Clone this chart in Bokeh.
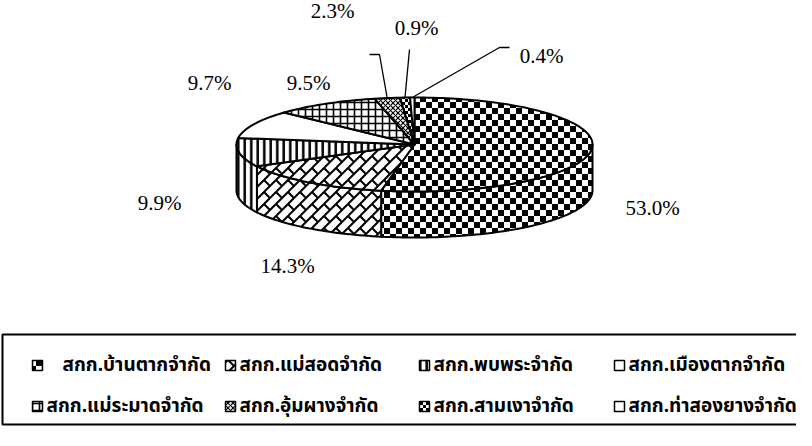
import math
import base64
from bokeh.plotting import figure
from bokeh.models import Range1d, ImageURLTexture
from bokeh.core.properties import value
from bokeh.embed import file_html
from bokeh.resources import INLINE

# ---------------- data ----------------
categories = ["สกก.บ้านตากจำกัด", "สกก.แม่สอดจำกัด", "สกก.พบพระจำกัด", "สกก.เมืองตากจำกัด",
              "สกก.แม่ระมาดจำกัด", "สกก.อุ้มผางจำกัด", "สกก.สามเงาจำกัด", "สกก.ท่าสองยางจำกัด"]
shares = [53.0, 14.3, 9.9, 9.7, 9.5, 2.3, 0.9, 0.4]

# ---------------- textures ----------------
def svg_url(svg):
    return "data:image/svg+xml;base64," + base64.b64encode(svg.encode()).decode()

def checker_svg(n):
    return (f"<svg xmlns='http://www.w3.org/2000/svg' width='{2*n}' height='{2*n}'>"
            f"<rect width='{2*n}' height='{2*n}' fill='white'/>"
            f"<rect width='{n}' height='{n}' fill='black'/>"
            f"<rect x='{n}' y='{n}' width='{n}' height='{n}' fill='black'/></svg>")

def brick_svg():
    T, s, L = 24, 12, 24
    parts = [f"<svg xmlns='http://www.w3.org/2000/svg' width='{T}' height='{T}'>",
             f"<rect width='{T}' height='{T}' fill='white'/>"]
    for c in range(-48, 97, s):
        parts.append(f"<line x1='{c+48}' y1='-48' x2='{c-96}' y2='96' stroke='black' stroke-width='2'/>")
    for k in range(-4, 9):
        c1, c2 = k * s, (k + 1) * s
        off = L // 2 if k % 2 else 0
        for v0 in range(-96 + off, 97, L):
            parts.append(f"<line x1='{(c1+v0)/2}' y1='{(c1-v0)/2}' x2='{(c2+v0)/2}' y2='{(c2-v0)/2}' "
                         f"stroke='black' stroke-width='2'/>")
    parts.append("</svg>")
    return "".join(parts)

textures = {
    "checker": ImageURLTexture(url=svg_url(checker_svg(6))),
    "smallchecker": ImageURLTexture(url=svg_url(checker_svg(3))),
    "brick": ImageURLTexture(url=svg_url(brick_svg())),
}

styles = [
    dict(hatch_pattern="checker", hatch_extra={"checker": textures["checker"]}),
    dict(hatch_pattern="brick", hatch_extra={"brick": textures["brick"]}),
    dict(hatch_pattern="vertical_line", hatch_scale=6.5, hatch_weight=2.5, hatch_color="black"),
    dict(hatch_pattern=" "),
    dict(hatch_pattern="cross", hatch_scale=7, hatch_weight=1.6, hatch_color="black"),
    dict(hatch_pattern="diagonal_cross", hatch_scale=5, hatch_weight=1.2, hatch_color="black"),
    dict(hatch_pattern="smallchecker", hatch_extra={"smallchecker": textures["smallchecker"]}),
    dict(hatch_pattern=" "),
]

# ---------------- layout constants ----------------
CX, CY, RX, RY, DEPTH = 422, 152, 178, 47, 46
label_pos = [(660, 215), (295, 273), (167, 210), (217, 90), (316, 90), (340, 18), (424, 35), (549, 63)]
leader_elbows = {5: [(387, 62), (377, 62)], 6: [(417, 57)], 7: [(507, 55), (517, 55)]}

p = figure(width=796, height=430, x_range=Range1d(8, 804), y_range=Range1d(438, 8),
           output_backend="svg", toolbar_location=None, min_border=0,
           x_axis_location=None, y_axis_location=None)
p.grid.visible = False
p.outline_line_color = None
p.background_fill_color = "white"


def pt(theta, dy=0.0):
    t = math.radians(theta)
    return CX + RX * math.sin(t), CY - RY * math.cos(t) + dy


def arc(a, b, dy=0.0, n=None):
    n = n or max(2, int(abs(b - a) / 1.5) + 2)
    return [pt(a + (b - a) * i / (n - 1), dy) for i in range(n)]


bounds = []
acc = 0.0
for v in shares:
    bounds.append((acc * 3.6, (acc + v) * 3.6))
    acc += v

# side walls (front half only)
for (t0, t1), st in zip(bounds, styles):
    a, b = max(t0, 90), min(t1, 270)
    if a < b:
        top = arc(a, b)
        bot = arc(b, a, DEPTH)
        pts = top + bot
        p.patch([q[0] for q in pts], [q[1] for q in pts], fill_color="white",
                line_color="black", line_width=2, line_join="round", **st)

# top faces
for (t0, t1), st in zip(bounds, styles):
    pts = [(CX, CY)] + arc(t0, t1) + [(CX, CY)]
    p.patch([q[0] for q in pts], [q[1] for q in pts], fill_color="white",
            line_color="black", line_width=2, line_join="round", **st)

# leader lines for small slices
for i, elbow in leader_elbows.items():
    t0, t1 = bounds[i]
    ax, ay = pt((t0 + t1) / 2)
    pts = [(ax, ay)] + elbow
    p.line([q[0] for q in pts], [q[1] for q in pts], line_color="black", line_width=1.3)

# percentage labels
p.text(x=[q[0] for q in label_pos], y=[q[1] for q in label_pos],
       text=[f"{v:.1f}%" for v in shares], text_align="center", text_baseline="middle",
       text_font=value("Liberation Serif"), text_font_size="21px", text_color="black")

# legend box
p.quad(left=[10], right=[808], top=[342], bottom=[432], fill_color=None,
       line_color="black", line_width=2)

col_x = [40, 233, 427, 622]
row_y = [373, 414]
thai_font = value("Noto Sans Thai, Loma, Garuda, Norasi, Noto Sans, sans-serif")
for i, (name, st) in enumerate(zip(categories, styles)):
    r, c = divmod(i, 4)
    mx, my = col_x[c], row_y[r]
    p.patch([mx, mx + 10, mx + 10, mx], [my - 5, my - 5, my + 5, my + 5], fill_color="white",
            line_color="black", line_width=1.5, **st)
    tx = mx + (30 if (r == 0 and c == 0) else 14)
    p.text(x=[tx], y=[my], text=[name], text_align="left", text_baseline="middle",
           text_font=thai_font, text_font_size="19px", text_font_style="bold", text_color="black")

open("out.html", "w").write(file_html(p, INLINE))
